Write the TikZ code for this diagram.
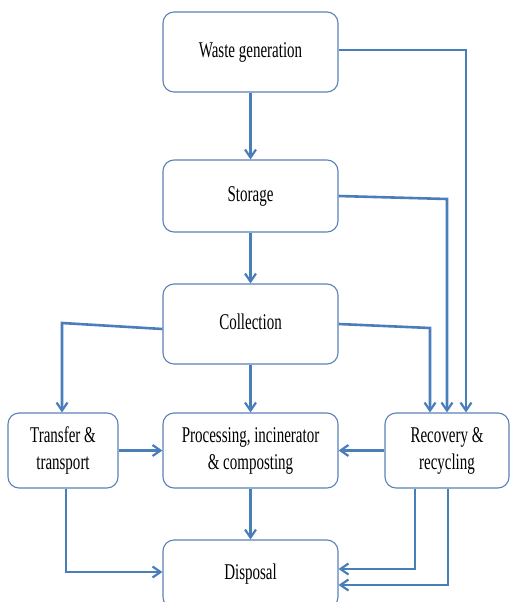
\documentclass[tikz,border=0pt]{standalone}
\usepackage{fontspec}
\setmainfont{Liberation Serif}
\usetikzlibrary{arrows.meta,calc}
\definecolor{lineblue}{HTML}{4A7EBB}
\definecolor{boxblue}{HTML}{5A82B8}
\newcommand{\stretchtext}[1]{\scalebox{1}[1.5]{\begin{tabular}{@{}c@{}}#1\end{tabular}}}
\tikzset{
  box/.style={draw=boxblue, line width=1.1pt, rounded corners=11pt, fill=white,
    inner sep=0pt, align=center, font=\fontsize{15}{18}\selectfont},
  arr/.style={draw=lineblue, line width=2.6pt,
    -{Straight Barb[length=8pt,width=11pt,line width=2.2pt]}},
  plain/.style={draw=lineblue, line width=2.6pt}
}
\begin{document}
\begin{tikzpicture}[x=1pt,y=-1pt]
\useasboundingbox (0,0) rectangle (510,602);
\begin{scope}
\clip (0,0) rectangle (510,602);
\node[box, minimum width=175pt, minimum height=80pt] (wg) at (250.5,52) {\stretchtext{Waste generation}};
\node[box, minimum width=175pt, minimum height=72pt] (st) at (250.5,196) {\stretchtext{Storage}};
\node[box, minimum width=175pt, minimum height=80pt] (co) at (250.5,324) {\stretchtext{Collection}};
\node[box, minimum width=110pt, minimum height=75pt] (tr) at (63,450.5) {\stretchtext{Transfer \&\\transport}};
\node[box, minimum width=175pt, minimum height=75pt] (pr) at (250.5,450.5) {\stretchtext{Processing, incinerator\\\& composting}};
\node[box, minimum width=124pt, minimum height=75pt] (re) at (447,450.5) {\stretchtext{Recovery \&\\recycling}};
\node[box, minimum width=175pt, minimum height=68pt] (di) at (250.5,574) {\stretchtext{Disposal}};

\coordinate (wgr) at ($(wg.east)+(0,-2)$);
\coordinate (reA) at ($(re.north)+(19,0)$);
\coordinate (reB) at (re.north);
\coordinate (reC) at ($(re.north)+(-17,0)$);
\coordinate (stbend) at (447,199);
\coordinate (cobendL) at (62,323);
\coordinate (cobendR) at (430,328);
\coordinate (cowl) at ($(co.west)+(0,5)$);
\coordinate (trn) at ($(tr.north)+(-1,0)$);
\coordinate (trs) at ($(tr.south)+(3,0)$);
\coordinate (reS1) at ($(re.south)+(-32,0)$);
\coordinate (reS2) at ($(re.south)+(1,0)$);
\coordinate (diE1) at ($(di.east)+(0,-5)$);
\coordinate (diE2) at ($(di.east)+(0,11)$);
\coordinate (diW) at ($(di.west)+(0,-2)$);

\draw[arr] (wg.south) -- (st.north);
\draw[arr] (wgr) -| (reA);
\draw[arr] (st.east) -- (stbend) -- (reB);
\draw[arr] (st.south) -- (co.north);
\draw[arr] (cowl) -- (cobendL) -- (trn);
\draw[arr] (co.east) -- (cobendR) -- (reC);
\draw[arr] (co.south) -- (pr.north);
\draw[arr] (tr.east) -- (pr.west);
\draw[arr] (re.west) -- (pr.east);
\draw[arr] (pr.south) -- (di.north);
\draw[arr] (trs) |- (diW);
\draw[arr] (reS1) |- (diE1);
\draw[arr] (reS2) |- (diE2);
\end{scope}
\end{tikzpicture}
\end{document}
